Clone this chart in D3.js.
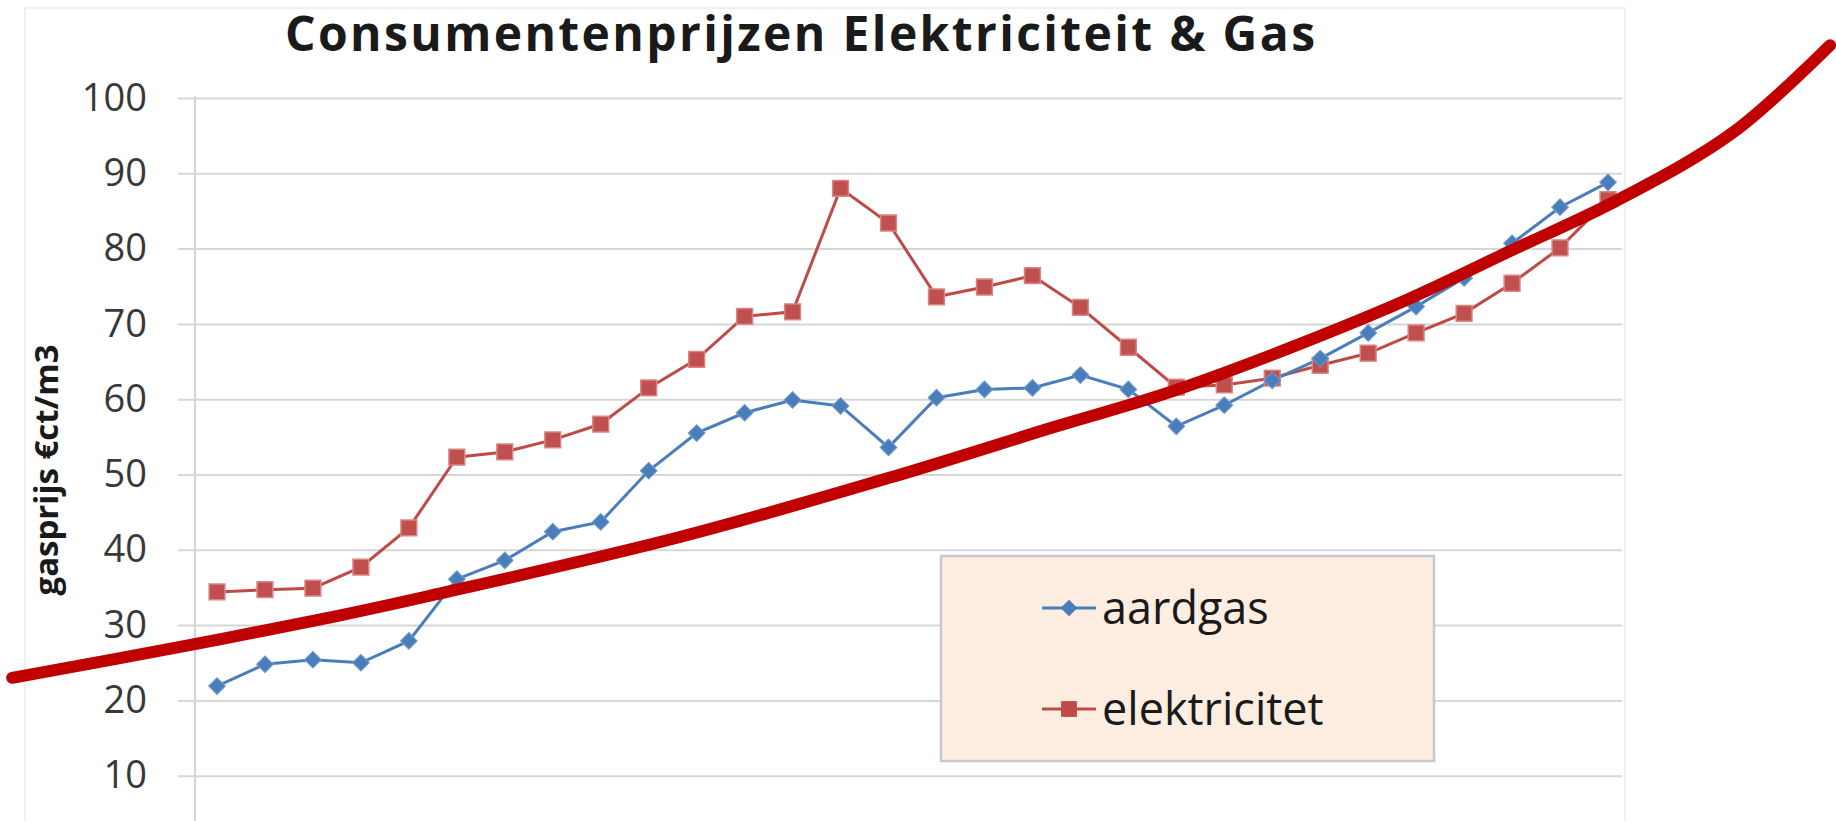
<!DOCTYPE html>
<html>
<head>
<meta charset="utf-8">
<script src="https://d3js.org/d3.v7.min.js"></script>
<style>
  body { margin: 0; background: #ffffff; }
  svg { display: block; }
  text { font-family: "Open Sans", "Noto Sans", sans-serif; }
</style>
</head>
<body>
<div id="chart"></div>
<script>
// Consumentenprijzen aardgas / elektriciteit, with the red trend curve drawn over it.
// Values (30 periods, no period labels visible).

var gasPrices = [21.9, 24.8, 25.4, 25.0, 27.9, 36.1, 38.6, 42.4, 43.7, 50.5,
  55.5, 58.2, 59.9, 59.1, 53.6, 60.2, 61.3, 61.5, 63.2, 61.3,
  56.4, 59.2, 62.5, 65.4, 68.8, 72.3, 76.1, 80.7, 85.5, 88.8];

var electricityPrices = [34.4, 34.7, 34.9, 37.7, 42.9, 52.3, 53.0, 54.6, 56.7, 61.5,
  65.3, 71.0, 71.6, 88.0, 83.4, 73.6, 74.9, 76.4, 72.2, 66.9,
  61.6, 61.9, 62.8, 64.5, 66.1, 68.8, 71.4, 75.4, 80.1, 86.5];

var seriesNames = ["aardgas", "elektricitet"];
var yTicks = [10, 20, 30, 40, 50, 60, 70, 80, 90, 100];

// hand drawn trend curve: period index and price
var trendPeriod = [-4.27, -0.77, 2.42, 4.44, 9.65, 14.09, 17.45, 20.08, 24.45, 27.0, 29.19, 31.6, 33.63];
var trendPrice = [23.0, 27.1, 31.1, 33.9, 41.7, 49.7, 56.3, 61.4, 72.2, 79.8, 86.4, 95.4, 107.0];

// SVG area
var svgWidth = 1836;
var svgHeight = 821;

// plot area (bottom of chart, the zero line, falls below the picture)
var plot = {
  left: 195,
  right: 1622,
  top: 98,
  zero: 851,
  gridStart: 178
};

var gasColor = "#4a7ebb";
var elecColor = "#be4b48";

var svg = d3.select("#chart")
  .append("svg")
  .attr("width", svgWidth)
  .attr("height", svgHeight);

// faint chart border
svg.append("rect")
  .attr("x", 25)
  .attr("y", 8)
  .attr("width", plot.right - 25 + 3)
  .attr("height", 900)
  .attr("fill", "none")
  .attr("stroke", "#ececec")
  .attr("stroke-width", 1.5);

// scales
var xScale = d3.scaleLinear()
  .domain([0, gasPrices.length - 1])
  .range([217, 1608]);

var yScale = d3.scaleLinear()
  .domain([0, 100])
  .range([plot.zero, plot.top]);

// y axis with gridlines
var leftAxis = d3.axisLeft(yScale)
  .tickValues(yTicks)
  .tickSize(-(plot.right - plot.gridStart))
  .tickPadding(31)
  .tickFormat(d3.format("d"));

var axisGroup = svg.append("g")
  .attr("transform", `translate(${plot.gridStart}, 0)`)
  .call(leftAxis);

axisGroup.select(".domain").remove();
axisGroup.selectAll(".tick line")
  .attr("stroke", "#d6d6d6")
  .attr("stroke-width", 2);
axisGroup.selectAll(".tick text")
  .attr("fill", "#383838")
  .style("font-size", "38px")
  .style("font-family", "'Open Sans', sans-serif");

// vertical axis line
svg.append("line")
  .attr("x1", plot.left)
  .attr("x2", plot.left)
  .attr("y1", plot.top - 2)
  .attr("y2", svgHeight + 10)
  .attr("stroke", "#d6d6d6")
  .attr("stroke-width", 2);

// title
svg.append("text")
  .attr("x", 800)
  .attr("y", 51)
  .attr("text-anchor", "middle")
  .attr("font-weight", "bold")
  .attr("font-size", "48px")
  .attr("fill", "#1a1a1a")
  .attr("textLength", 1030)
  .attr("lengthAdjust", "spacing")
  .text("Consumentenprijzen Elektriciteit & Gas");

// y axis label
svg.append("text")
  .attr("transform", "translate(58, 470) rotate(-90)")
  .attr("text-anchor", "middle")
  .attr("font-weight", "bold")
  .attr("font-size", "33px")
  .attr("fill", "#1a1a1a")
  .text("gasprijs \u20acct/m3");

// lines
var line = d3.line()
  .x((d, i) => xScale(i))
  .y(d => yScale(d));

var diamond = d3.symbol().type(d3.symbolSquare).size(140);
var square = d3.symbol().type(d3.symbolSquare).size(250);

svg.append("path")
  .datum(electricityPrices)
  .attr("d", line)
  .attr("fill", "none")
  .attr("stroke", elecColor)
  .attr("stroke-width", 3);

svg.append("path")
  .datum(gasPrices)
  .attr("d", line)
  .attr("fill", "none")
  .attr("stroke", gasColor)
  .attr("stroke-width", 3);

// markers
svg.selectAll(".elec-marker")
  .data(electricityPrices)
  .enter()
  .append("path")
  .attr("class", "elec-marker")
  .attr("d", square)
  .attr("transform", (d, i) => `translate(${xScale(i)}, ${yScale(d)})`)
  .attr("fill", "#c0504d")
  .attr("stroke", "#d98583")
  .attr("stroke-width", 1.5);

svg.selectAll(".gas-marker")
  .data(gasPrices)
  .enter()
  .append("path")
  .attr("class", "gas-marker")
  .attr("d", diamond)
  .attr("transform", (d, i) => `translate(${xScale(i)}, ${yScale(d)}) rotate(45)`)
  .attr("fill", gasColor)
  .attr("stroke", "#6f9ad0")
  .attr("stroke-width", 1);

// legend
var legend = svg.append("g");

legend.append("rect")
  .attr("x", 941)
  .attr("y", 556)
  .attr("width", 493)
  .attr("height", 205)
  .attr("fill", "#fdeee1")
  .attr("stroke", "#c8c8d0")
  .attr("stroke-width", 2.5);

var legendRows = [
  { name: seriesNames[0], color: gasColor, marker: diamond, rotate: 45, y: 608 },
  { name: seriesNames[1], color: elecColor, marker: square, rotate: 0, y: 709 }
];

legendRows.forEach(function(row) {
  legend.append("line")
    .attr("x1", 1042)
    .attr("x2", 1096)
    .attr("y1", row.y)
    .attr("y2", row.y)
    .attr("stroke", row.color)
    .attr("stroke-width", 3);

  legend.append("path")
    .attr("d", row.marker)
    .attr("transform", `translate(1069, ${row.y}) rotate(${row.rotate})`)
    .attr("fill", row.color);

  legend.append("text")
    .attr("x", 1102)
    .attr("y", row.y)
    .attr("dy", "0.35em")
    .attr("font-size", "45px")
    .attr("fill", "#1a1a1a")
    .text(row.name);
});

// red trend curve on top of everything
var trendLine = d3.line()
  .x(d => xScale(d[0]))
  .y(d => yScale(d[1]))
  .curve(d3.curveCatmullRom.alpha(0.5));

svg.append("path")
  .datum(d3.zip(trendPeriod, trendPrice))
  .attr("d", trendLine)
  .attr("fill", "none")
  .attr("stroke", "#c00000")
  .attr("stroke-width", 12)
  .attr("stroke-linecap", "round");
</script>
</body>
</html>
